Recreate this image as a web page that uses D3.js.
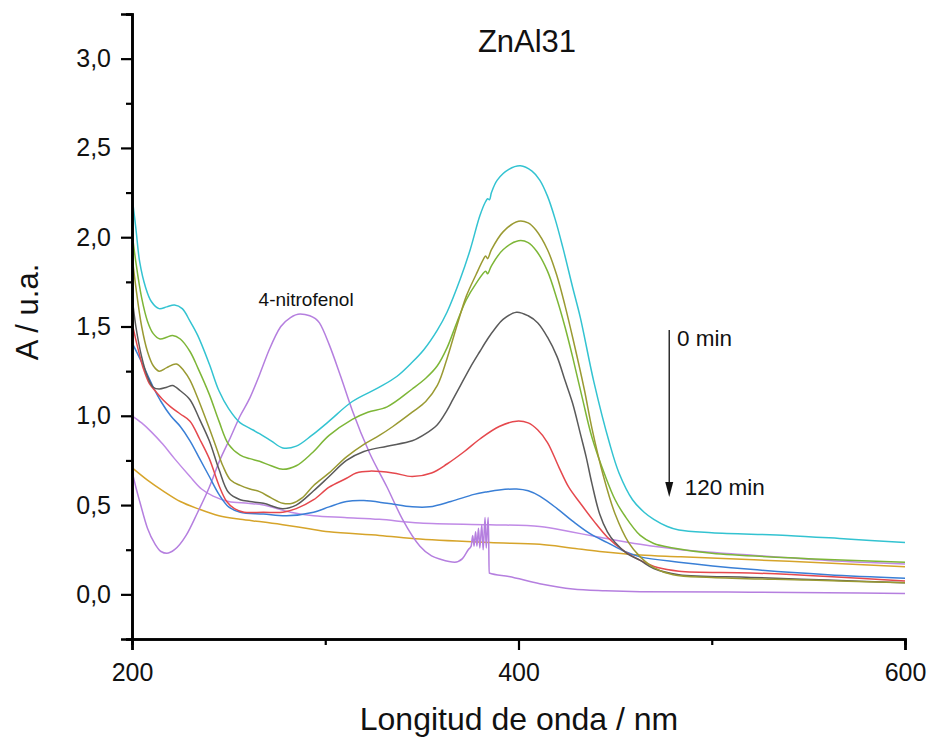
<!DOCTYPE html>
<html>
<head>
<meta charset="utf-8">
<script src="https://cdn.jsdelivr.net/npm/d3@7/dist/d3.min.js"></script>
<style>
  html, body { margin: 0; padding: 0; background: #fff; }
  svg { display: block; font-family: "Liberation Sans", Arial, sans-serif; }
</style>
</head>
<body>
<svg id="chart" width="931" height="740"></svg>
<script>
// UV-Vis spectra of 4-nitrofenol reduction over ZnAl31: [wavelength nm, absorbance]
const spec1 = [[200,2.23],[202,2.05],[204,1.86],[207,1.72],[210,1.64],[214,1.60],[218,1.61],[222,1.62],[226,1.60],[230,1.53],[234,1.45],[240,1.29],[245,1.14],[250,1.04],[256,0.96],[261,0.93],[266,0.90],[272,0.86],[278,0.82],[285,0.83],[293,0.89],[302,0.97],[314,1.08],[328,1.16],[337,1.22],[345,1.30],[351,1.37],[358,1.48],[363,1.58],[370,1.77],[375,1.93],[380,2.12],[383,2.20],[384,2.215],[385,2.21],[386,2.25],[389,2.32],[395,2.38],[401,2.40],[407,2.37],[411,2.32],[415,2.23],[419,2.10],[423,1.94],[428,1.72],[432,1.55],[439,1.19],[447,0.85],[452,0.68],[459,0.53],[465,0.46],[470,0.42],[477,0.38],[483,0.36],[500,0.345],[539,0.33],[570,0.31],[600,0.29]];
const spec2 = [[200,1.90],[202,1.72],[205,1.50],[208,1.36],[211,1.28],[214,1.25],[218,1.27],[223,1.29],[227,1.25],[230,1.20],[234,1.10],[240,0.93],[244,0.81],[247,0.72],[251,0.64],[256,0.61],[261,0.59],[266,0.575],[272,0.54],[278,0.51],[283,0.51],[288,0.54],[294,0.61],[302,0.68],[311,0.77],[320,0.84],[328,0.89],[335,0.94],[345,1.02],[352,1.08],[358,1.17],[363,1.32],[368,1.50],[373,1.67],[378,1.79],[382,1.88],[383,1.895],[384,1.88],[386,1.93],[392,2.03],[400,2.09],[405,2.08],[409,2.04],[415,1.93],[420,1.78],[424,1.62],[428,1.44],[434,1.15],[438,0.93],[444,0.66],[450,0.45],[457,0.29],[463,0.21],[470,0.15],[480,0.11],[500,0.095],[550,0.08],[600,0.065]];
const spec3 = [[200,2.03],[202,1.86],[205,1.66],[208,1.53],[211,1.46],[214.5,1.43],[218,1.44],[221,1.45],[225,1.43],[230,1.36],[234,1.27],[240,1.12],[245,0.97],[250,0.84],[256,0.78],[261,0.76],[266,0.745],[272,0.72],[278,0.70],[285,0.72],[293,0.79],[302,0.89],[314,0.98],[322,1.02],[332,1.05],[345,1.15],[352,1.21],[358,1.28],[363,1.38],[368,1.52],[373,1.65],[378,1.74],[383,1.81],[384,1.795],[386,1.84],[392,1.93],[400,1.98],[405,1.97],[409.5,1.92],[415,1.81],[420,1.65],[424,1.50],[428,1.33],[433,1.10],[438,0.88],[445,0.66],[450,0.53],[455,0.44],[463,0.33],[470,0.285],[480,0.26],[500,0.23],[550,0.20],[600,0.18]];
const spec4 = [[200,1.67],[202,1.50],[205,1.33],[208,1.22],[211,1.16],[214,1.15],[218,1.16],[221,1.17],[225,1.14],[230,1.09],[235,0.98],[240,0.86],[245,0.70],[250,0.57],[256,0.53],[261,0.52],[268,0.51],[278,0.48],[285,0.50],[294,0.58],[302,0.66],[311,0.75],[320,0.80],[332,0.83],[345,0.86],[352,0.90],[358,0.95],[363,1.03],[366,1.09],[370,1.17],[375,1.27],[380,1.36],[384,1.43],[388,1.49],[392,1.54],[399,1.58],[405,1.56],[410,1.52],[415,1.44],[420,1.33],[424,1.20],[428,1.07],[432,0.90],[435,0.77],[438,0.62],[442,0.45],[446,0.35],[450,0.29],[456,0.23],[463,0.19],[470,0.145],[483,0.11],[520,0.095],[560,0.08],[600,0.065]];
const spec5 = [[200,1.52],[203,1.38],[206,1.26],[209,1.18],[212,1.14],[216,1.09],[220,1.05],[225,1.01],[230,0.97],[235,0.87],[240,0.76],[245,0.61],[249,0.52],[253,0.48],[258,0.46],[268,0.46],[278,0.46],[285,0.48],[294,0.53],[302,0.60],[311,0.65],[316,0.68],[323,0.69],[335,0.68],[345,0.66],[355,0.68],[363,0.73],[372,0.80],[380,0.87],[390,0.94],[399,0.97],[405,0.96],[410,0.92],[415,0.85],[421,0.71],[426,0.60],[432,0.51],[439,0.41],[446,0.32],[455,0.24],[463,0.19],[472,0.15],[483,0.13],[520,0.12],[560,0.10],[600,0.075]];
const spec6 = [[200,1.41],[205,1.30],[211,1.16],[215,1.08],[220,1.00],[225,0.94],[230,0.86],[235,0.76],[240,0.66],[245,0.56],[250,0.49],[256,0.46],[268,0.45],[280,0.44],[294,0.46],[302,0.49],[311,0.52],[320,0.525],[332,0.51],[345,0.49],[354,0.49],[365,0.52],[377,0.56],[384,0.575],[390,0.585],[399,0.59],[405,0.58],[411,0.55],[420,0.48],[428,0.41],[437,0.34],[446,0.29],[455,0.24],[463,0.21],[483,0.18],[520,0.14],[560,0.11],[600,0.09]];
const spec7 = [[200,1.00],[205,0.96],[210,0.91],[216,0.84],[222,0.76],[230,0.66],[236,0.59],[242,0.55],[250,0.52],[260,0.51],[268,0.50],[282,0.46],[294,0.44],[310,0.43],[328,0.42],[349,0.40],[385,0.39],[411,0.38],[427,0.35],[442,0.32],[463,0.28],[484,0.25],[520,0.22],[560,0.19],[600,0.17]];
const spec8 = [[200,0.71],[208,0.64],[216,0.58],[225,0.52],[234,0.48],[245,0.44],[256,0.42],[268,0.405],[278,0.39],[290,0.37],[302,0.35],[328,0.33],[349,0.31],[385,0.29],[411,0.28],[427,0.26],[442,0.24],[463,0.22],[484,0.21],[540,0.185],[600,0.155]];
const nitrophenol = [[200,0.69],[202,0.60],[204,0.52],[208,0.37],[212,0.28],[215,0.24],[218,0.23],[222,0.25],[228,0.33],[234,0.46],[240,0.60],[245,0.74],[251,0.88],[256,1.00],[261,1.10],[266,1.23],[271,1.37],[277,1.50],[282,1.55],[287,1.57],[292,1.56],[297,1.52],[302,1.40],[308,1.22],[314,1.03],[323,0.79],[332,0.60],[340,0.42],[349,0.27],[355,0.215],[360,0.195],[367,0.18],[371,0.20],[374,0.25],[375.5,0.27],[376.3,0.33],[377,0.27],[377.8,0.35],[378.5,0.27],[379.3,0.37],[380,0.26],[381,0.39],[381.7,0.25],[382.7,0.43],[383.3,0.26],[384.3,0.43],[384.6,0.30],[384.8,0.12],[395,0.10],[411,0.06],[428,0.03],[445,0.02],[463,0.015],[520,0.012],[600,0.005]];

const seriesData = [spec8, spec7, nitrophenol, spec6, spec5, spec4, spec3, spec2, spec1];
const seriesColors = ["#d6a42a", "#c08ae6", "#b57fdf", "#3a7fd6", "#e5484d", "#5a5a5a", "#7db637", "#9a9a32", "#33c3d1"];

const xMajor = [200, 400, 600];
const xMinor = [300, 500];
const yMajor = [0, 0.5, 1.0, 1.5, 2.0, 2.5, 3.0];
const yMinor = [-0.25, 0.25, 0.75, 1.25, 1.75, 2.25, 2.75, 3.25];

const titleText = "ZnAl31";
const xTitle = "Longitud de onda / nm";
const yTitle = "A / u.a.";

const svg = d3.select("#chart");
const x = d3.scaleLinear().domain([200, 600]).range([132, 905]);
const y = d3.scaleLinear().domain([-0.25, 3.25]).range([639, 14]);

const smoothLine = d3.line()
  .x(d => x(d[0]))
  .y(d => y(d[1]))
  .curve(d3.curveCatmullRom.alpha(0.5));
// the noisy 4-nitrofenol trace keeps its sharp step without overshoot
const stepLine = d3.line()
  .x(d => x(d[0]))
  .y(d => y(d[1]))
  .curve(d3.curveMonotoneX);

svg.append("g")
  .selectAll("path")
  .data(seriesData)
  .join("path")
  .attr("d", d => (d === nitrophenol ? stepLine(d) : smoothLine(d)))
  .attr("fill", "none")
  .attr("stroke", (d, i) => seriesColors[i])
  .attr("stroke-width", 1.5)
  .attr("stroke-linejoin", "round");

const fmt = d => d3.format(".1f")(d).replace(".", ",");

function styleAxis(g) {
  g.select(".domain").attr("stroke", "#000").attr("stroke-width", 2.6);
  g.selectAll(".tick line").attr("stroke", "#000").attr("stroke-width", 2.2);
  g.selectAll(".tick text").attr("fill", "#111").style("font-size", "25px")
    .style("font-family", "'Liberation Sans', Arial, sans-serif");
}

// x axis: major + minor ticks
svg.append("g").attr("transform", `translate(0,${y(-0.25)})`)
  .call(d3.axisBottom(x).tickValues(xMinor).tickSize(6).tickFormat(""))
  .call(styleAxis);
svg.append("g").attr("transform", `translate(0,${y(-0.25)})`)
  .call(d3.axisBottom(x).tickValues(xMajor).tickSize(11).tickPadding(13).tickFormat(d3.format("d")))
  .call(styleAxis);

// y axis: major + minor ticks
svg.append("g").attr("transform", `translate(${x(200)},0)`)
  .call(d3.axisLeft(y).tickValues(yMinor).tickSize(6).tickFormat(""))
  .call(styleAxis);
svg.append("g").attr("transform", `translate(${x(200)},0)`)
  .call(d3.axisLeft(y).tickValues(yMajor).tickSize(11).tickPadding(10).tickFormat(fmt))
  .call(styleAxis);

// titles
svg.append("text").attr("x", 527).attr("y", 52).attr("text-anchor", "middle")
  .style("font-size", "31px").attr("fill", "#111").text(titleText);
svg.append("text").attr("x", 519).attr("y", 730).attr("text-anchor", "middle")
  .style("font-size", "32px").attr("fill", "#111").text(xTitle);
svg.append("text").attr("transform", "translate(38,312) rotate(-90)").attr("text-anchor", "middle")
  .style("font-size", "31px").attr("fill", "#111").text(yTitle);

// annotations
svg.append("text").attr("x", x(265.5)).attr("y", y(1.614))
  .style("font-size", "19px").attr("fill", "#111").text("4-nitrofenol");

const arrowX = x(478);
const arrowTop = y(1.48), arrowTip = y(0.545);
svg.append("line").attr("x1", arrowX).attr("x2", arrowX)
  .attr("y1", arrowTop).attr("y2", arrowTip - 12)
  .attr("stroke", "#222").attr("stroke-width", 1.4);
svg.append("path")
  .attr("d", `M${arrowX - 4},${arrowTip - 15} L${arrowX + 4},${arrowTip - 15} L${arrowX},${arrowTip} Z`)
  .attr("fill", "#111");
svg.append("text").attr("x", x(482)).attr("y", y(1.39))
  .style("font-size", "22.5px").attr("fill", "#111").text("0 min");
svg.append("text").attr("x", x(486)).attr("y", y(0.555))
  .style("font-size", "22.5px").attr("fill", "#111").text("120 min");
</script>
</body>
</html>
